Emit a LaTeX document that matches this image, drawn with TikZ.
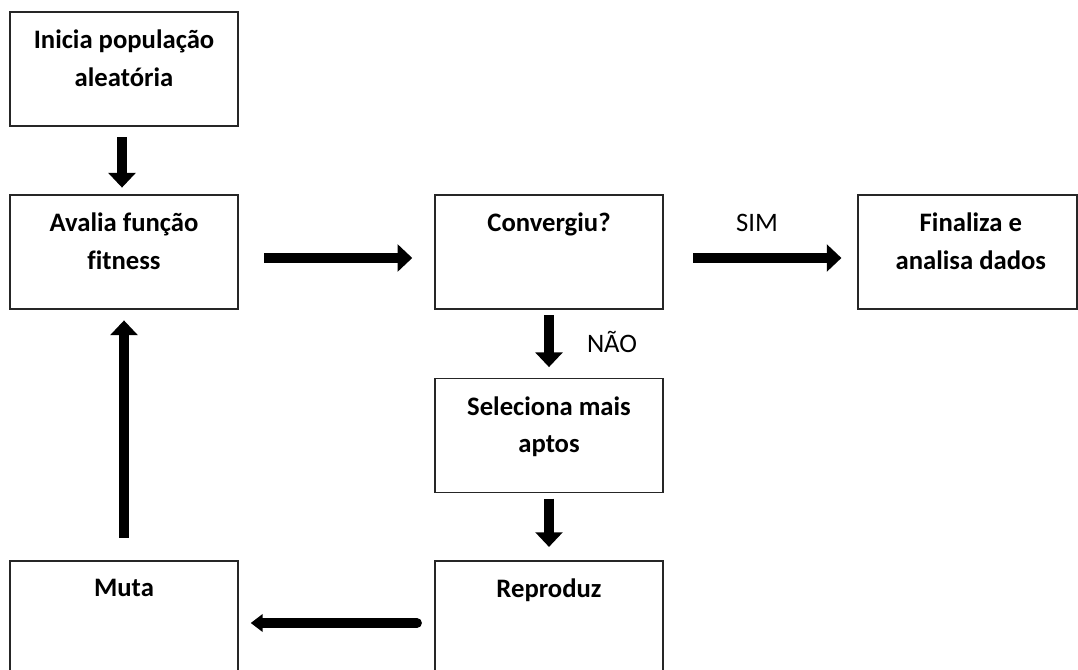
\documentclass[tikz,border=0pt]{standalone}
\usepackage{fontspec}
\setmainfont[Ligatures=CommonOff]{Carlito}
\usetikzlibrary{arrows.meta,calc}

\begin{document}
\begin{tikzpicture}[x=0.75pt,y=-0.75pt,
    box/.style={draw=black!85,line width=1.1pt,minimum width=171pt,minimum height=85.5pt,inner sep=0pt},
    txt/.style={anchor=north,yshift=-14pt,align=center,inner sep=0pt,
      font=\fontsize{20}{28}\selectfont\bfseries},
    lbl/.style={anchor=base,inner sep=0pt,font=\fontsize{20}{28}\selectfont},
    flow/.style={line width=7pt,-{Triangle[width=20pt,length=11pt]}},
    flowback/.style={line width=7.5pt,line cap=round,-{Triangle[width=13pt,length=9pt]}}]
  \clip (0,0) rectangle (1078,670);
  % boxes
  \node[box] (inicia) at (124,69) {};
  \node[box] (avalia) at (124,252) {};
  \node[box] (conv)   at (549,252) {};
  \node[box,minimum width=164pt] (final) at (967.5,252) {};
  \node[box] (selec)  at (549,435.5) {};
  \node[box] (muta)   at (124,618) {};
  \node[box] (repro)  at (549,618) {};
  % texts
  \node[txt] (inicia-t) at (inicia.north) {Inicia população\\aleatória};
  \node[txt] (avalia-t) at (avalia.north) {Avalia função\\fitness};
  \node[txt] (conv-t)   at (conv.north)   {Convergiu?};
  \node[txt,xshift=2.5pt] (final-t) at (final.north) {Finaliza e\\analisa dados};
  \node[txt] (selec-t)  at (selec.north)  {Seleciona mais\\aptos};
  \node[txt] (muta-t)   at (muta.north)   {Muta};
  \node[txt] (repro-t)  at (repro.north)  {Reproduz};
  \node[lbl] (sim) at (757,232) {SIM};
  \node[lbl] (nao) at (612,352) {NÃO};
  % arrows
  \draw[flow,shorten <=8pt,shorten >=5pt] ([xshift=-1.5pt]inicia.south) -- ([xshift=-1.5pt]avalia.north);
  \draw[flow,shorten <=19pt,shorten >=16.5pt] ($(avalia.east)+(0,6)$) -- ($(conv.west)+(0,6)$);
  \draw[flow,shorten <=22pt,shorten >=12pt] ($(conv.east)+(0,6)$) -- ($(final.west)+(0,6)$);
  \draw[flow,shorten <=4pt,shorten >=8pt] (conv.south) -- (selec.north);
  \draw[flow,shorten <=4pt,shorten >=10pt] (selec.south) -- (repro.north);
  \draw[flowback,shorten <=13pt,shorten >=9pt] ($(repro.west)+(0,5)$) -- ($(muta.east)+(0,5)$);
  \draw[flow,shorten <=17pt,shorten >=8pt] (muta.north) -- (avalia.south);
\end{tikzpicture}
\end{document}
